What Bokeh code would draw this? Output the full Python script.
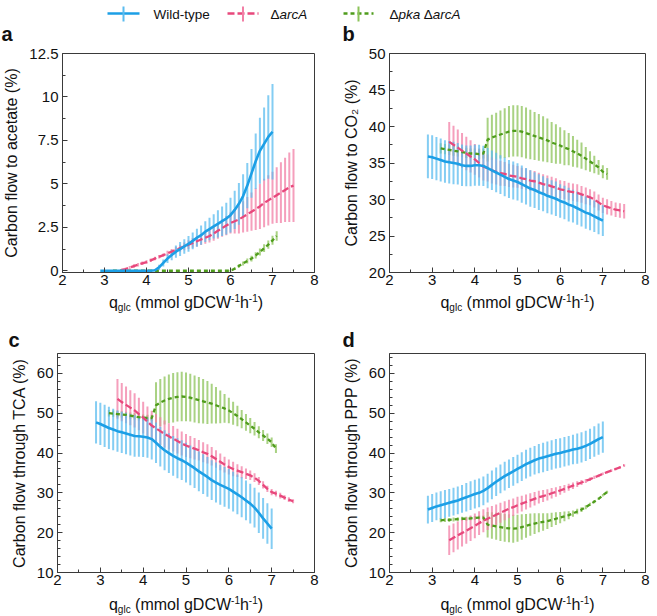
from bokeh.plotting import figure
from bokeh.models import Range1d, FixedTicker, ColumnDataSource
from bokeh.core.properties import value
from bokeh.layouts import column, row
from bokeh.embed import file_html
from bokeh.resources import INLINE

FONT = "Liberation Sans"

# ---------------------------------------------------------------------------
# Sample grids (glucose uptake rate q_glc, mmol gDCW^-1 h^-1)
# ---------------------------------------------------------------------------
WT_X = [2.9,
        3.0, 3.1, 3.2, 3.3, 3.4, 3.5, 3.6, 3.7, 3.8, 3.9,
        4.0, 4.1, 4.2, 4.3, 4.4, 4.5, 4.6, 4.7, 4.8, 4.9,
        5.0, 5.1, 5.2, 5.3, 5.4, 5.5, 5.6, 5.7, 5.8, 5.9,
        6.0, 6.1, 6.2, 6.3, 6.4, 6.5, 6.6, 6.7, 6.8, 6.9,
        7.0]
ARC_X = [3.4, 3.5, 3.6, 3.7, 3.8, 3.9,
         4.0, 4.1, 4.2, 4.3, 4.4, 4.5, 4.6, 4.7, 4.8, 4.9,
         5.0, 5.1, 5.2, 5.3, 5.4, 5.5, 5.6, 5.7, 5.8, 5.9,
         6.0, 6.1, 6.2, 6.3, 6.4, 6.5, 6.6, 6.7, 6.8, 6.9,
         7.0, 7.1, 7.2, 7.3, 7.4, 7.5]
PKA_X = [3.2, 3.3, 3.4, 3.5, 3.6, 3.7, 3.8, 3.9,
         4.0, 4.1, 4.2, 4.3, 4.4, 4.5, 4.6, 4.7, 4.8, 4.9,
         5.0, 5.1, 5.2, 5.3, 5.4, 5.5, 5.6, 5.7, 5.8, 5.9,
         6.0, 6.1, 6.2, 6.3, 6.4, 6.5, 6.6, 6.7, 6.8, 6.9,
         7.0, 7.1]

# ---------------------------------------------------------------------------
# (a) carbon flow to acetate (%)
# ---------------------------------------------------------------------------
acetate_wt = [0,
              0, 0, 0, 0, 0, 0, 0, 0, 0, 0,
              0, 0, 0.03, 0.2, 0.45, 0.7, 0.9, 1.1, 1.25, 1.4,
              1.55, 1.72, 1.9, 2.05, 2.25, 2.4, 2.55, 2.7, 2.85, 3.0,
              3.2, 3.5, 3.85, 4.3, 4.9, 5.6, 6.3, 6.9, 7.3, 7.7,
              8.0]
acetate_wt_err = [0,
                  0, 0, 0, 0, 0, 0, 0, 0, 0, 0,
                  0, 0, 0.05, 0.15, 0.2, 0.25, 0.3, 0.35, 0.4, 0.42,
                  0.45, 0.48, 0.52, 0.56, 0.6, 0.65, 0.7, 0.78, 0.85, 0.92,
                  1.0, 1.1, 1.2, 1.25, 1.3, 1.4, 1.6, 1.9, 2.1, 2.4,
                  2.75]
acetate_arc = [0.05, 0.1, 0.18, 0.27, 0.35, 0.43,
               0.5, 0.6, 0.7, 0.8, 0.9, 1.0, 1.1, 1.2, 1.3, 1.4,
               1.5, 1.6, 1.7, 1.8, 1.9, 2.0, 2.15, 2.3, 2.45, 2.6,
               2.75, 2.85, 2.95, 3.1, 3.25, 3.4, 3.55, 3.7, 3.9, 4.05,
               4.2, 4.35, 4.5, 4.65, 4.8, 4.9]
acetate_arc_err = [0.05, 0.08, 0.1, 0.1, 0.1, 0.1,
                   0.1, 0.1, 0.1, 0.1, 0.1, 0.15, 0.15, 0.18, 0.2, 0.22,
                   0.25, 0.28, 0.3, 0.32, 0.35, 0.38, 0.42, 0.46, 0.5, 0.55,
                   0.6, 0.7, 0.8, 0.9, 1.0, 1.1, 1.2, 1.3, 1.4, 1.45,
                   1.5, 1.6, 1.75, 1.85, 2.0, 2.1]
acetate_pka = [0, 0, 0, 0, 0, 0, 0, 0,
               0, 0, 0, 0, 0, 0, 0, 0, 0, 0,
               0, 0, 0, 0, 0, 0, 0, 0, 0, 0,
               0.0, 0.12, 0.28, 0.42, 0.56, 0.7, 0.88, 1.08, 1.3, 1.5,
               1.75, 2.0]
acetate_pka_err = [0, 0, 0, 0, 0, 0, 0, 0,
                   0, 0, 0, 0, 0, 0, 0, 0, 0, 0,
                   0, 0, 0, 0, 0, 0, 0, 0, 0, 0,
                   0.05, 0.08, 0.1, 0.12, 0.14, 0.16, 0.18, 0.2, 0.22, 0.24,
                   0.26, 0.28]

# ---------------------------------------------------------------------------
# (b) carbon flow to CO2 (%)
# ---------------------------------------------------------------------------
co2_wt = [35.9,
          35.8, 35.6, 35.4, 35.2, 35.1, 35.0, 34.9, 34.7, 34.6, 34.6,
          34.7, 34.7, 34.6, 34.3, 34.0, 33.7, 33.4, 33.1, 32.8, 32.6,
          32.4, 32.1, 31.8, 31.5, 31.3, 31.0, 30.8, 30.5, 30.3, 30.1,
          29.8, 29.6, 29.3, 29.1, 28.8, 28.5, 28.2, 28.0, 27.7, 27.4,
          27.1]
co2_wt_err = [3.0,
              3.0, 2.95, 2.95, 2.9, 2.9, 2.9, 2.85, 2.85, 2.8, 2.8,
              2.8, 2.8, 2.75, 2.75, 2.7, 2.7, 2.65, 2.65, 2.6, 2.6,
              2.55, 2.55, 2.5, 2.5, 2.45, 2.45, 2.4, 2.4, 2.35, 2.35,
              2.3, 2.3, 2.3, 2.25, 2.25, 2.2, 2.2, 2.2, 2.15, 2.15,
              2.1]
co2_arc = [37.9, 37.5, 37.1, 36.7, 36.3, 35.9,
           35.5, 35.0, 34.5, 34.3, 34.0, 33.8, 33.6, 33.5, 33.3, 33.2,
           33.1, 32.9, 32.8, 32.6, 32.5, 32.3, 32.1, 32.0, 31.8, 31.6,
           31.4, 31.3, 31.1, 31.0, 30.9, 30.7, 30.5, 30.3, 30.0, 29.6,
           29.2, 29.0, 28.8, 28.6, 28.5, 28.4]
co2_arc_err = [2.7, 2.6, 2.5, 2.4, 2.3, 2.2,
               2.1, 2.0, 1.9, 1.85, 1.8, 1.75, 1.7, 1.65, 1.6, 1.55,
               1.5, 1.45, 1.45, 1.4, 1.4, 1.35, 1.35, 1.3, 1.3, 1.3,
               1.25, 1.25, 1.2, 1.2, 1.2, 1.15, 1.15, 1.1, 1.1, 1.1,
               1.05, 1.05, 1.0, 1.0, 1.0, 1.0]
co2_pka = [37.0, 36.9, 36.8, 36.7, 36.6, 36.5, 36.4, 36.3,
           36.3, 36.2, 36.3, 38.2, 38.5, 38.7, 38.9, 39.1, 39.3, 39.4,
           39.4, 39.3, 39.1, 38.9, 38.7, 38.5, 38.3, 38.1, 37.8, 37.6,
           37.4, 37.1, 36.9, 36.6, 36.3, 36.0, 35.6, 35.2, 34.8, 34.4,
           33.8, 33.5]
co2_pka_err = [0.7, 0.7, 0.7, 0.7, 0.7, 0.7, 0.7, 0.7,
               0.7, 0.7, 0.7, 3.0, 3.1, 3.2, 3.3, 3.4, 3.5, 3.5,
               3.5, 3.5, 3.5, 3.4, 3.3, 3.2, 3.1, 3.0, 2.8, 2.7,
               2.5, 2.4, 2.2, 2.1, 1.9, 1.8, 1.6, 1.4, 1.2, 1.0,
               0.9, 0.8]

# ---------------------------------------------------------------------------
# (c) carbon flow through the TCA cycle (%)
# ---------------------------------------------------------------------------
tca_wt = [47.7,
          47.3, 46.8, 46.3, 45.9, 45.5, 45.2, 44.9, 44.6, 44.3, 44.2,
          44.1, 43.9, 43.5, 42.6, 41.6, 40.7, 40.0, 39.3, 38.7, 38.2,
          37.6, 36.9, 36.2, 35.4, 34.7, 34.0, 33.2, 32.6, 32.0, 31.5,
          31.0, 30.3, 29.6, 28.9, 28.1, 27.3, 26.3, 25.0, 23.6, 22.3,
          21.0]
tca_wt_err = [5.3,
              5.3, 5.3, 5.3, 5.2, 5.2, 5.2, 5.2, 5.2, 5.2, 5.1,
              5.1, 5.1, 5.1, 5.1, 5.0, 5.0, 5.0, 5.0, 5.0, 5.0,
              5.0, 5.0, 5.0, 5.0, 5.0, 5.0, 5.0, 5.0, 5.0, 5.0,
              5.0, 5.0, 5.0, 5.0, 5.0, 5.0, 5.0, 5.1, 5.1, 5.1,
              5.1]
tca_arc = [53.6, 52.8, 52.1, 51.4, 50.7, 49.8,
           48.9, 47.9, 46.9, 46.2, 45.5, 44.8, 44.2, 43.6, 43.0, 42.4,
           41.9, 41.5, 41.1, 40.7, 40.2, 39.8, 39.2, 38.5, 37.8, 37.1,
           36.5, 36.0, 35.6, 35.2, 34.8, 34.4, 33.8, 33.0, 32.0, 31.0,
           30.2, 29.8, 29.3, 28.8, 28.3, 27.9]
tca_arc_err = [5.0, 4.8, 4.6, 4.4, 4.3, 4.1,
               4.0, 3.8, 3.7, 3.6, 3.5, 3.4, 3.3, 3.2, 3.1, 3.0,
               2.9, 2.8, 2.7, 2.6, 2.5, 2.4, 2.3, 2.2, 2.1, 2.0,
               1.9, 1.8, 1.6, 1.5, 1.3, 1.2, 1.1, 1.0, 0.9, 0.8,
               0.8, 0.7, 0.7, 0.6, 0.6, 0.5]
tca_pka = [50.0, 49.9, 49.8, 49.7, 49.6, 49.4, 49.2, 49.0,
           48.9, 48.8, 48.8, 52.0, 52.7, 53.2, 53.6, 53.9, 54.1, 54.2,
           54.1, 53.9, 53.6, 53.3, 53.0, 52.7, 52.4, 52.0, 51.6, 51.2,
           50.7, 50.0, 49.3, 48.5, 47.7, 46.9, 46.1, 45.2, 44.4, 43.6,
           42.7, 41.1]
tca_pka_err = [0.8, 0.8, 0.8, 0.8, 0.8, 0.8, 0.8, 0.8,
               0.8, 0.8, 0.8, 5.8, 5.9, 6.0, 6.1, 6.2, 6.2, 6.2,
               6.1, 6.0, 5.9, 5.8, 5.6, 5.4, 5.0, 4.6, 4.1, 3.6,
               3.2, 2.9, 2.6, 2.3, 2.1, 1.9, 1.7, 1.5, 1.4, 1.3,
               1.2, 1.1]

# ---------------------------------------------------------------------------
# (d) carbon flow through the pentose phosphate pathway (%)
# ---------------------------------------------------------------------------
ppp_wt = [25.8,
          26.2, 26.6, 26.9, 27.2, 27.5, 27.8, 28.1, 28.5, 28.9, 29.3,
          29.7, 30.0, 30.5, 31.2, 32.0, 32.8, 33.5, 34.2, 34.8, 35.4,
          36.0, 36.6, 37.2, 37.7, 38.2, 38.6, 38.9, 39.2, 39.5, 39.8,
          40.0, 40.3, 40.6, 40.9, 41.1, 41.4, 41.8, 42.3, 42.9, 43.5,
          44.0]
ppp_wt_err = [3.5,
              3.5, 3.5, 3.5, 3.5, 3.5, 3.5, 3.5, 3.5, 3.6, 3.6,
              3.6, 3.6, 3.6, 3.6, 3.6, 3.6, 3.6, 3.6, 3.6, 3.6,
              3.6, 3.6, 3.6, 3.6, 3.6, 3.7, 3.7, 3.7, 3.7, 3.7,
              3.7, 3.7, 3.7, 3.7, 3.8, 3.8, 3.8, 3.8, 3.8, 3.9,
              3.9]
ppp_arc = [18.1, 18.7, 19.3, 19.9, 20.5, 21.1,
           21.7, 22.4, 23.0, 23.5, 24.0, 24.5, 25.0, 25.5, 26.0, 26.4,
           26.9, 27.3, 27.7, 28.1, 28.5, 28.9, 29.2, 29.5, 29.9, 30.2,
           30.6, 31.0, 31.4, 31.8, 32.2, 32.6, 33.0, 33.4, 33.9, 34.3,
           34.8, 35.2, 35.6, 36.0, 36.4, 36.9]
ppp_arc_err = [3.7, 3.6, 3.5, 3.4, 3.3, 3.2,
               3.1, 3.0, 2.9, 2.8, 2.7, 2.6, 2.5, 2.4, 2.3, 2.2,
               2.1, 2.0, 1.9, 1.8, 1.7, 1.6, 1.5, 1.4, 1.3, 1.2,
               1.1, 1.0, 0.9, 0.8, 0.7, 0.6, 0.5, 0.45, 0.4, 0.35,
               0.3, 0.3, 0.3, 0.3, 0.3, 0.3]
ppp_pka = [23.1, 23.2, 23.2, 23.3, 23.4, 23.5, 23.5, 23.6,
           23.7, 23.8, 23.8, 22.0, 21.8, 21.6, 21.4, 21.2, 21.1, 21.0,
           21.1, 21.4, 21.7, 22.0, 22.3, 22.5, 22.7, 22.9, 23.2, 23.5,
           23.8, 24.1, 24.4, 24.8, 25.3, 25.8, 26.4, 27.1, 27.8, 28.5,
           29.4, 30.2]
ppp_pka_err = [0.5, 0.5, 0.5, 0.5, 0.5, 0.5, 0.5, 0.5,
               0.5, 0.5, 0.5, 3.2, 3.3, 3.4, 3.5, 3.5, 3.5, 3.5,
               3.4, 3.2, 3.0, 2.8, 2.6, 2.4, 2.2, 2.0, 1.8, 1.6,
               1.4, 1.2, 1.0, 0.8, 0.7, 0.6, 0.5, 0.4, 0.4, 0.3,
               0.3, 0.3]

# Axis ticks
X_MAJOR = [2, 3, 4, 5, 6, 7, 8]
X_MINOR = [2.5, 3.5, 4.5, 5.5, 6.5, 7.5]

# Strain styles: (line colour, error-bar colour, dash, line width)
STYLE = {
    "wt":  ("#1c9fe6", "#5bbcef", "solid", 2.6),
    "arc": ("#e8487c", "#f27fa5", "7 3", 2.3),
    "pka": ("#4f9c1c", "#8cc35a", "4 3", 2.3),
}

AXIS_COLOR = "#3a3a3a"
TEXT_COLOR = "#111111"


def strain_layer(p, xs, mean, err, key):
    line_color, bar_color, dash, lw = STYLE[key]
    src = ColumnDataSource(dict(
        x=xs,
        mean=mean,
        lo=[m - e for m, e in zip(mean, err)],
        hi=[m + e for m, e in zip(mean, err)],
    ))
    p.segment(x0="x", y0="lo", x1="x", y1="hi", source=src,
              line_color=bar_color, line_width=2, line_alpha=0.75)
    return src, line_color, dash, lw


def make_panel(width, left, right, top, y_start, y_end, y_major, y_minor,
               y_overrides, ylabel, series):
    p = figure(width=width, height=top + 219 + 20, output_backend="svg",
               toolbar_location=None,
               x_range=Range1d(2, 8), y_range=Range1d(y_start, y_end),
               min_border_left=left, min_border_right=right,
               min_border_top=top, min_border_bottom=20)
    p.grid.visible = False
    p.outline_line_color = AXIS_COLOR
    p.outline_line_width = 1
    p.background_fill_color = "white"
    p.border_fill_color = "white"

    p.xaxis.ticker = FixedTicker(ticks=X_MAJOR, minor_ticks=X_MINOR)
    p.yaxis.ticker = FixedTicker(ticks=y_major, minor_ticks=y_minor)
    if y_overrides:
        p.yaxis.major_label_overrides = y_overrides

    for ax in (p.xaxis[0], p.yaxis[0]):
        ax.axis_line_color = AXIS_COLOR
        ax.major_tick_line_color = AXIS_COLOR
        ax.minor_tick_line_color = AXIS_COLOR
        ax.major_tick_in = 5
        ax.major_tick_out = 0
        ax.minor_tick_in = 3
        ax.minor_tick_out = 0
        ax.major_label_text_font = FONT
        ax.major_label_text_font_size = "15px"
        ax.major_label_text_color = TEXT_COLOR
    p.xaxis.major_label_standoff = 2
    p.yaxis.major_label_standoff = 4

    p.yaxis.axis_label = ylabel
    p.yaxis.axis_label_text_font = FONT
    p.yaxis.axis_label_text_font_size = "16px"
    p.yaxis.axis_label_text_font_style = "normal"
    p.yaxis.axis_label_text_color = TEXT_COLOR
    p.yaxis.axis_label_standoff = 6

    layers = [strain_layer(p, xs, m, e, k) for xs, m, e, k in series]
    for src, color, dash, lw in layers:
        p.line(x="x", y="mean", source=src, line_color=color, line_dash=dash,
               line_width=lw, line_join="round")
    return p


def series_for(wt, wt_e, arc, arc_e, pka, pka_e):
    return [(PKA_X, pka, pka_e, "pka"),
            (ARC_X, arc, arc_e, "arc"),
            (WT_X, wt, wt_e, "wt")]


def strip(height):
    # Text-only band whose data coordinates are pixels measured from the top-left
    s = figure(width=657, height=height, output_backend="svg", toolbar_location=None,
               x_range=Range1d(0, 657), y_range=Range1d(height, 0),
               x_axis_location=None, y_axis_location=None, min_border=0)
    s.grid.visible = False
    s.outline_line_color = None
    return s


def put_text(s, x, y, text, px, style="normal"):
    # y is the wanted baseline; the glyph layout sits about 0.28 em lower
    s.text(x=[x], y=[y - 0.28 * px], text=[text], text_font=value(FONT),
           text_font_size=value(f"{px}px"), text_font_style=style,
           text_color=TEXT_COLOR, text_baseline="alphabetic", text_align="left")


def xlabel(s, center, baseline):
    # q_glc (mmol gDCW^-1 h^-1), with sub- and superscripts as smaller text
    pieces = [
        ("q", 16, 0, 8.9),
        ("glc", 10, 4, 12.8 + 4.4),
        ("(mmol gDCW", 16, 0, 96.0),
        ("-1", 10, -6, 8.9),
        ("h", 16, 0, 8.9),
        ("-1", 10, -6, 8.9),
        (")", 16, 0, 5.3),
    ]
    total = sum(w for *_, w in pieces)
    x = center - total / 2
    for text, px, dy, w in pieces:
        put_text(s, x, baseline + dy, text, px)
        x += w


pa = make_panel(330, 57, 16, 8,
                -0.1, 12.5, [0, 2.5, 5, 7.5, 10, 12.5],
                [1.25, 3.75, 6.25, 8.75, 11.25],
                {0: "0", 2.5: "2.5", 5: "5", 7.5: "7.5", 10: "10", 12.5: "12.5"},
                "Carbon flow to acetate (%)",
                series_for(acetate_wt, acetate_wt_err, acetate_arc, acetate_arc_err,
                           acetate_pka, acetate_pka_err))

pb = make_panel(327, 59, 12, 8,
                20, 50, [20, 25, 30, 35, 40, 45, 50],
                [22.5, 27.5, 32.5, 37.5, 42.5, 47.5], None,
                "Carbon flow to CO\u2082 (%)",
                series_for(co2_wt, co2_wt_err, co2_arc, co2_arc_err,
                           co2_pka, co2_pka_err))

C_MINOR = [12, 14, 16, 18, 22, 24, 26, 28, 32, 34, 36, 38, 42, 44, 46, 48,
           52, 54, 56, 58, 62, 64]

pc = make_panel(330, 57, 16, 1,
                10, 65, [10, 20, 30, 40, 50, 60], C_MINOR, None,
                "Carbon flow through TCA (%)",
                series_for(tca_wt, tca_wt_err, tca_arc, tca_arc_err,
                           tca_pka, tca_pka_err))

pd_ = make_panel(327, 59, 12, 1,
                 10, 65, [10, 20, 30, 40, 50, 60], C_MINOR, None,
                 "Carbon flow through PPP (%)",
                 series_for(ppp_wt, ppp_wt_err, ppp_arc, ppp_arc_err,
                            ppp_pka, ppp_pka_err))

# ---------------------------------------------------------------------------
# Top band: shared legend and the letters of the upper panels
# ---------------------------------------------------------------------------
top = strip(45)

LEGEND_ITEMS = [
    ("wt", 107, 139, 153, [("Wild-type", "normal", 0)]),
    ("arc", 227, 258, 270, [("\u0394", "normal", 0), ("arcA", "italic", 9.0)]),
    ("pka", 343, 373, 389, [("\u0394", "normal", 0), ("pka", "italic", 9.0),
                            ("\u0394", "normal", 34.3), ("arcA", "italic", 43.3)]),
]

for key, x0, x1, tx, parts in LEGEND_ITEMS:
    line_color, bar_color, dash, lw = STYLE[key]
    top.segment(x0=[x0], y0=[13], x1=[x1], y1=[13], line_color=line_color,
                line_dash=dash, line_width=lw)
    xm = (x0 + x1) / 2
    top.segment(x0=[xm], y0=[6], x1=[xm], y1=[21], line_color=bar_color,
                line_width=2)
    for text, style, dx in parts:
        put_text(top, tx + dx, 18, text, 13.5, style)

put_text(top, 1, 39.5, "a", 20, "bold")
put_text(top, 342, 39.5, "b", 20, "bold")

# Middle band: x-axis titles of the upper panels, letters of the lower ones
mid = strip(60)
xlabel(mid, 185.5, 14)
xlabel(mid, 517.0, 14)
put_text(mid, 8, 53, "c", 20, "bold")
put_text(mid, 342, 53, "d", 20, "bold")

# Bottom band: x-axis titles of the lower panels
bot = strip(24)
xlabel(bot, 185.5, 16)
xlabel(bot, 517.0, 16)

layout = column(top, row(pa, pb), mid, row(pc, pd_), bot)

open("out.html", "w").write(file_html(layout, INLINE))
